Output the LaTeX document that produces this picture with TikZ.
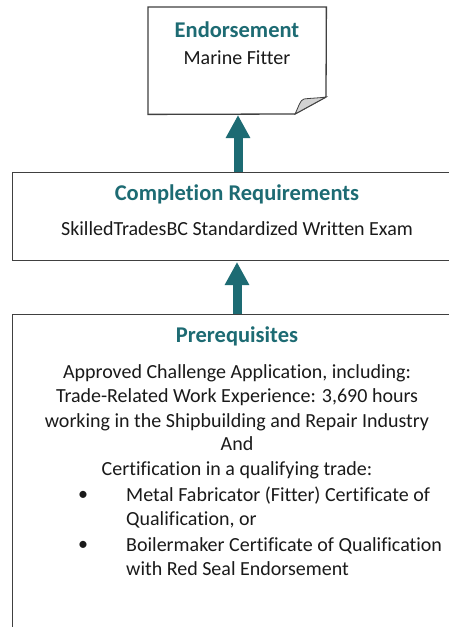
\documentclass[tikz,border=0pt]{standalone}
\usepackage{fontspec}
\setmainfont{Carlito}[Ligatures={NoCommon}]
\usetikzlibrary{arrows.meta}
\definecolor{teal1}{HTML}{1D6B73}
\definecolor{edge}{HTML}{404040}
\definecolor{ink}{HTML}{1A1A1A}
\definecolor{foldgray}{HTML}{D2D2D2}
\tikzset{
  box/.style={draw=edge, line width=1.3pt, fill=white, inner sep=0pt, anchor=north west},
  ttl/.style={font=\fontsize{22.5}{27}\selectfont\bfseries, text=teal1, anchor=mid, inner sep=0pt},
  txt/.style={font=\fontsize{20}{24}\selectfont, text=ink, anchor=mid, inner sep=0pt},
  txtw/.style={txt, anchor=mid west},
  uparrow/.style={draw=teal1, line width=9pt, -{Triangle[width=23pt,length=23pt]}}
}
\begin{document}
\begin{tikzpicture}[x=1pt, y=-1pt]
\useasboundingbox (0,0) rectangle (449,627);
\clip (0,0) rectangle (449,627);
\fill[white] (0,0) rectangle (449,627);
% top document box
\node[anchor=north west, minimum width=178pt, minimum height=107pt, inner sep=0pt] (endo) at (148,7) {};
\draw[edge, line width=1.3pt, fill=white] (endo.north west) -- (endo.north east) -- (326,97) -- (295,114) -- (endo.south west) -- cycle;
\draw[edge, line width=0.8pt, fill=foldgray] (295,114) .. controls (299,106) and (300,100) .. (304,99) .. controls (312,98) and (320,98) .. (326,97) -- cycle;
\node[ttl] (endot) at (237,35) {Endorsement};
\node[txt] (endob) at (237,62) {Marine Fitter};
% middle box
\node[box, minimum width=470pt, minimum height=88pt] (req) at (12,172) {};
\node[ttl] (reqt) at (237,198) {Completion Requirements};
\node[txt] (reqb) at (237,233) {SkilledTradesBC Standardized Written Exam};
% bottom box
\node[box, minimum width=470pt, minimum height=340pt] (pre) at (12,314) {};
\node[ttl] (pret) at (237,340) {Prerequisites};
\node[txt] (l1) at (237,376) {Approved Challenge Application, including:};
\node[txt] (l2) at (237,400) {Trade-Related Work Experience: 3,690 hours};
\node[txt] (l3) at (237,425) {working in the Shipbuilding and Repair Industry};
\node[txt] (l4) at (237,448) {And};
\node[txt] (l5) at (237,473) {Certification in a qualifying trade:};
\node[txt] (b1) at (83,498) {•};
\node[txtw] (l6) at (126,499) {Metal Fabricator (Fitter) Certificate of};
\node[txtw] (l7) at (126,523) {Qualification, or};
\node[txt] (b2) at (83,548) {•};
\node[txtw] (l8) at (126,549) {Boilermaker Certificate of Qualification};
\node[txtw] (l9) at (126,573) {with Red Seal Endorsement};
% arrows
\draw[uparrow] (req.north -| 238,0) -- (238,115);
\draw[uparrow] (pre.north -| 237,0) -- (237,262);
\end{tikzpicture}
\end{document}
